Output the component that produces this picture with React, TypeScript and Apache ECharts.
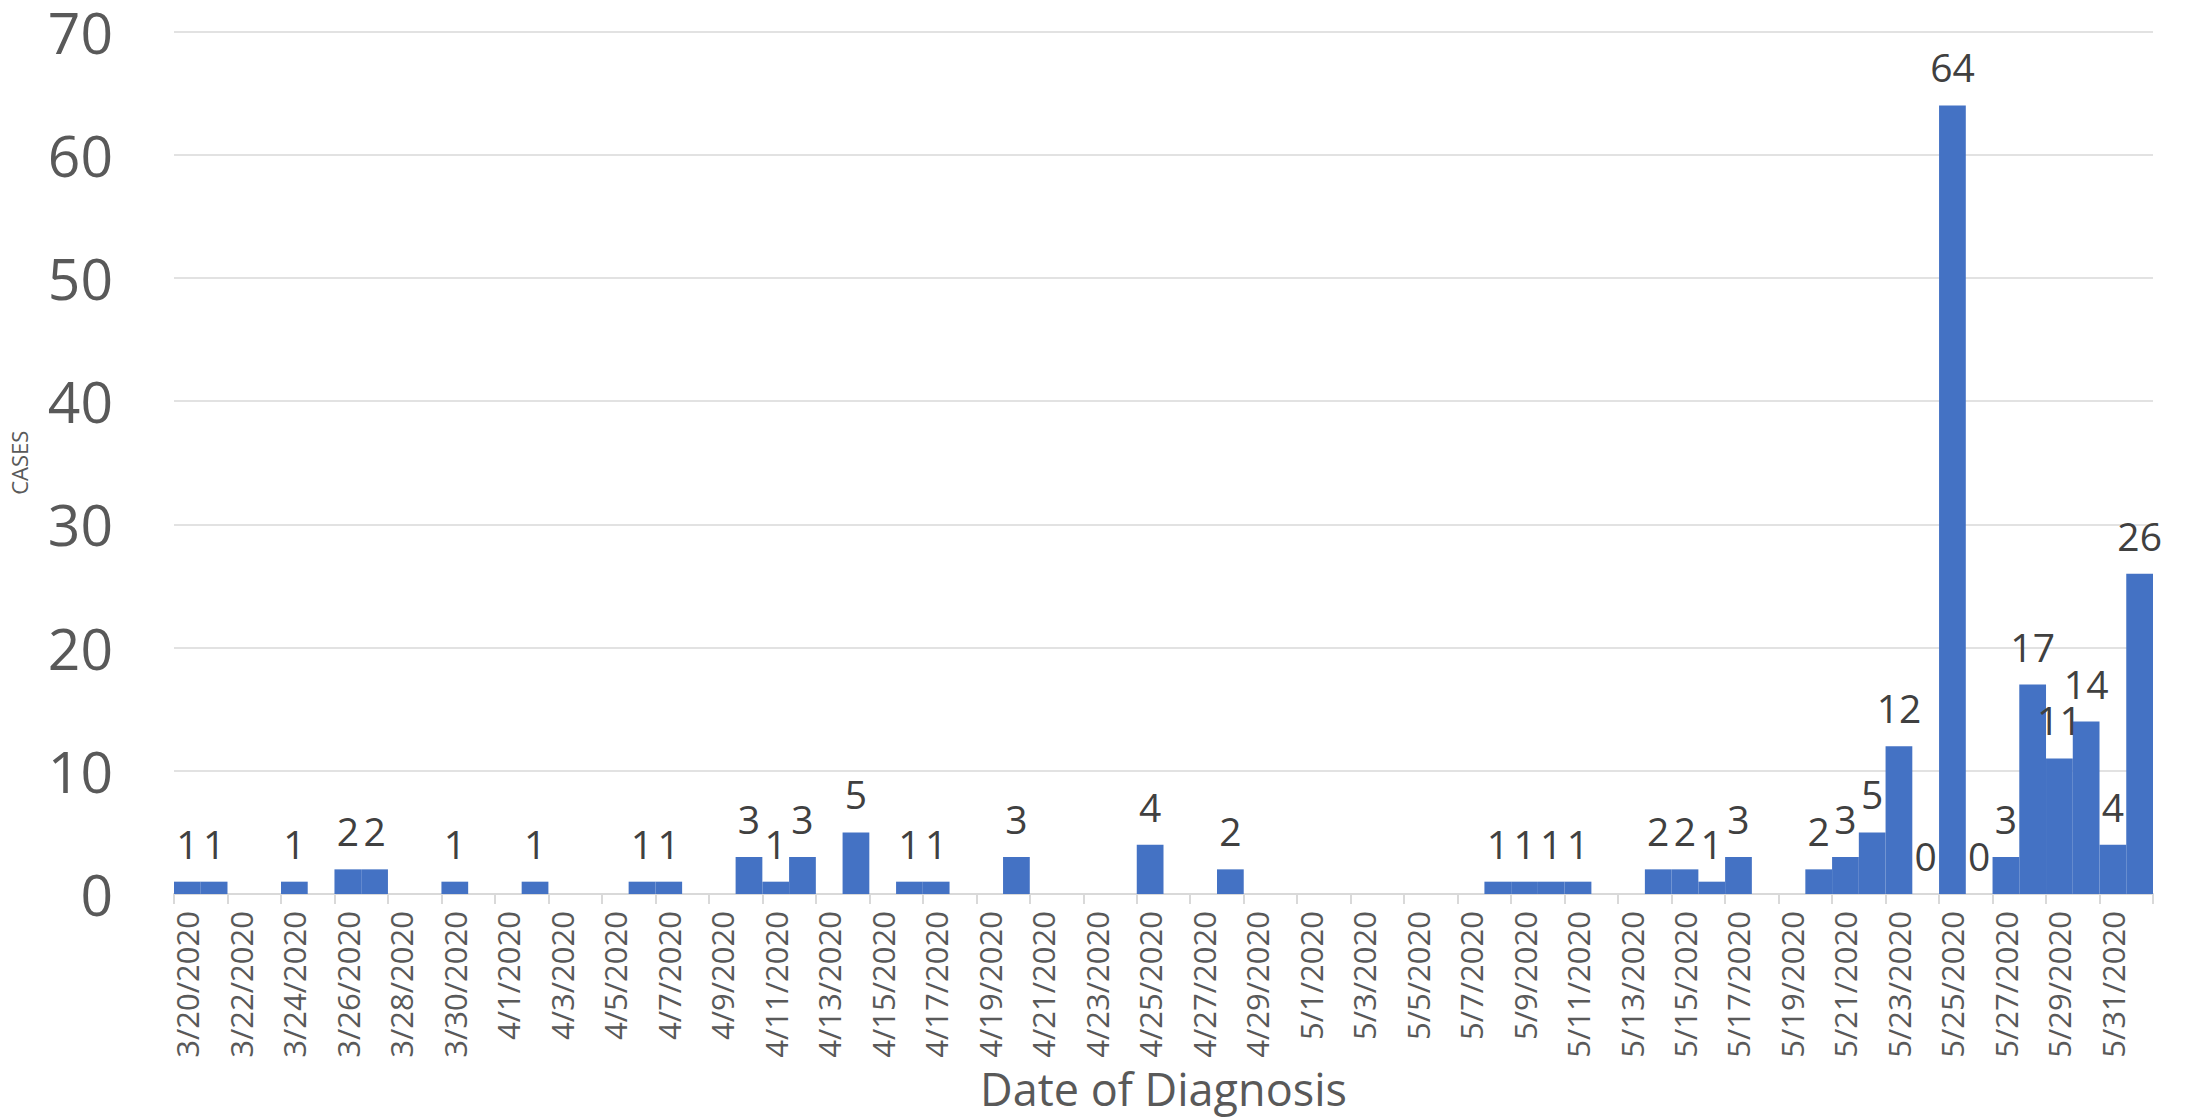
import React, { useEffect, useRef } from "react";
import * as echarts from "echarts";

const dates: string[] = [
  "3/20/2020", "3/21/2020", "3/22/2020", "3/23/2020", "3/24/2020", "3/25/2020", "3/26/2020", "3/27/2020",
  "3/28/2020", "3/29/2020", "3/30/2020", "3/31/2020", "4/1/2020", "4/2/2020", "4/3/2020", "4/4/2020",
  "4/5/2020", "4/6/2020", "4/7/2020", "4/8/2020", "4/9/2020", "4/10/2020", "4/11/2020", "4/12/2020",
  "4/13/2020", "4/14/2020", "4/15/2020", "4/16/2020", "4/17/2020", "4/18/2020", "4/19/2020", "4/20/2020",
  "4/21/2020", "4/22/2020", "4/23/2020", "4/24/2020", "4/25/2020", "4/26/2020", "4/27/2020", "4/28/2020",
  "4/29/2020", "4/30/2020", "5/1/2020", "5/2/2020", "5/3/2020", "5/4/2020", "5/5/2020", "5/6/2020",
  "5/7/2020", "5/8/2020", "5/9/2020", "5/10/2020", "5/11/2020", "5/12/2020", "5/13/2020", "5/14/2020",
  "5/15/2020", "5/16/2020", "5/17/2020", "5/18/2020", "5/19/2020", "5/20/2020", "5/21/2020", "5/22/2020",
  "5/23/2020", "5/24/2020", "5/25/2020", "5/26/2020", "5/27/2020", "5/28/2020", "5/29/2020", "5/30/2020",
  "5/31/2020", "6/1/2020",
];

// Cases per date of diagnosis (null = no entry for that date)
const cases: (number | null)[] = [
  1, 1, null, null, 1, null, 2, 2,
  null, null, 1, null, null, 1, null, null,
  null, 1, 1, null, null, 3, 1, 3,
  null, 5, null, 1, 1, null, null, 3,
  null, null, null, null, 4, null, null, 2,
  null, null, null, null, null, null, null, null,
  null, 1, 1, 1, 1, null, null, 2,
  2, 1, 3, null, null, 2, 3, 5,
  12, 0, 64, 0, 3, 17, 11, 14,
  4, 26,
];

const yTicks = { min: 0, max: 70, interval: 10 };
const xAxisTitle = "Date of Diagnosis";
const yAxisTitle = "CASES";

const FONT = "'Open Sans', 'Noto Sans', sans-serif";

export default function App() {
  const ref = useRef<HTMLDivElement>(null);
  useEffect(() => {
    if (!ref.current) return;
    const chart = echarts.init(ref.current, null, { renderer: "svg" });
    chart.setOption({
      animation: false,
      backgroundColor: "#ffffff",
      grid: { left: 173, right: 37, top: 31.5, bottom: 226, containLabel: false },
      xAxis: {
        type: "category",
        data: dates,
        boundaryGap: true,
        name: xAxisTitle,
        nameLocation: "middle",
        nameGap: 172,
        nameTextStyle: { fontFamily: FONT, fontSize: 45, color: "#595959" },
        axisLine: { show: true, lineStyle: { color: "#d9d9d9", width: 2 } },
        axisTick: { show: true, interval: 1, length: 10, lineStyle: { color: "#d9d9d9", width: 2 } },
        axisLabel: {
          interval: 1,
          rotate: 90,
          margin: 17,
          fontFamily: FONT,
          fontSize: 31,
          color: "#595959",
        },
        splitLine: { show: false },
      },
      yAxis: {
        type: "value",
        min: yTicks.min,
        max: yTicks.max,
        interval: yTicks.interval,
        name: yAxisTitle,
        nameLocation: "middle",
        nameGap: 144,
        nameRotate: 90,
        nameTextStyle: { fontFamily: FONT, fontSize: 22, color: "#595959" },
        axisLine: { show: false },
        axisTick: { show: false },
        axisLabel: { margin: 61, fontFamily: FONT, fontSize: 57, color: "#595959" },
        splitLine: { show: true, lineStyle: { color: "#d9d9d9", width: 1.5 } },
      },
      series: [
        {
          type: "bar",
          data: cases,
          barCategoryGap: "0%",
          itemStyle: { color: "#4472C4" },
          label: {
            show: true,
            position: "top",
            distance: 19,
            fontFamily: FONT,
            fontSize: 39,
            color: "#404040",
          },
        },
      ],
    });
    return () => chart.dispose();
  }, []);
  return (
    <div
      ref={ref}
      style={{ position: "fixed", left: 0, top: 0, width: 2190, height: 1120, background: "#fff" }}
    />
  );
}
